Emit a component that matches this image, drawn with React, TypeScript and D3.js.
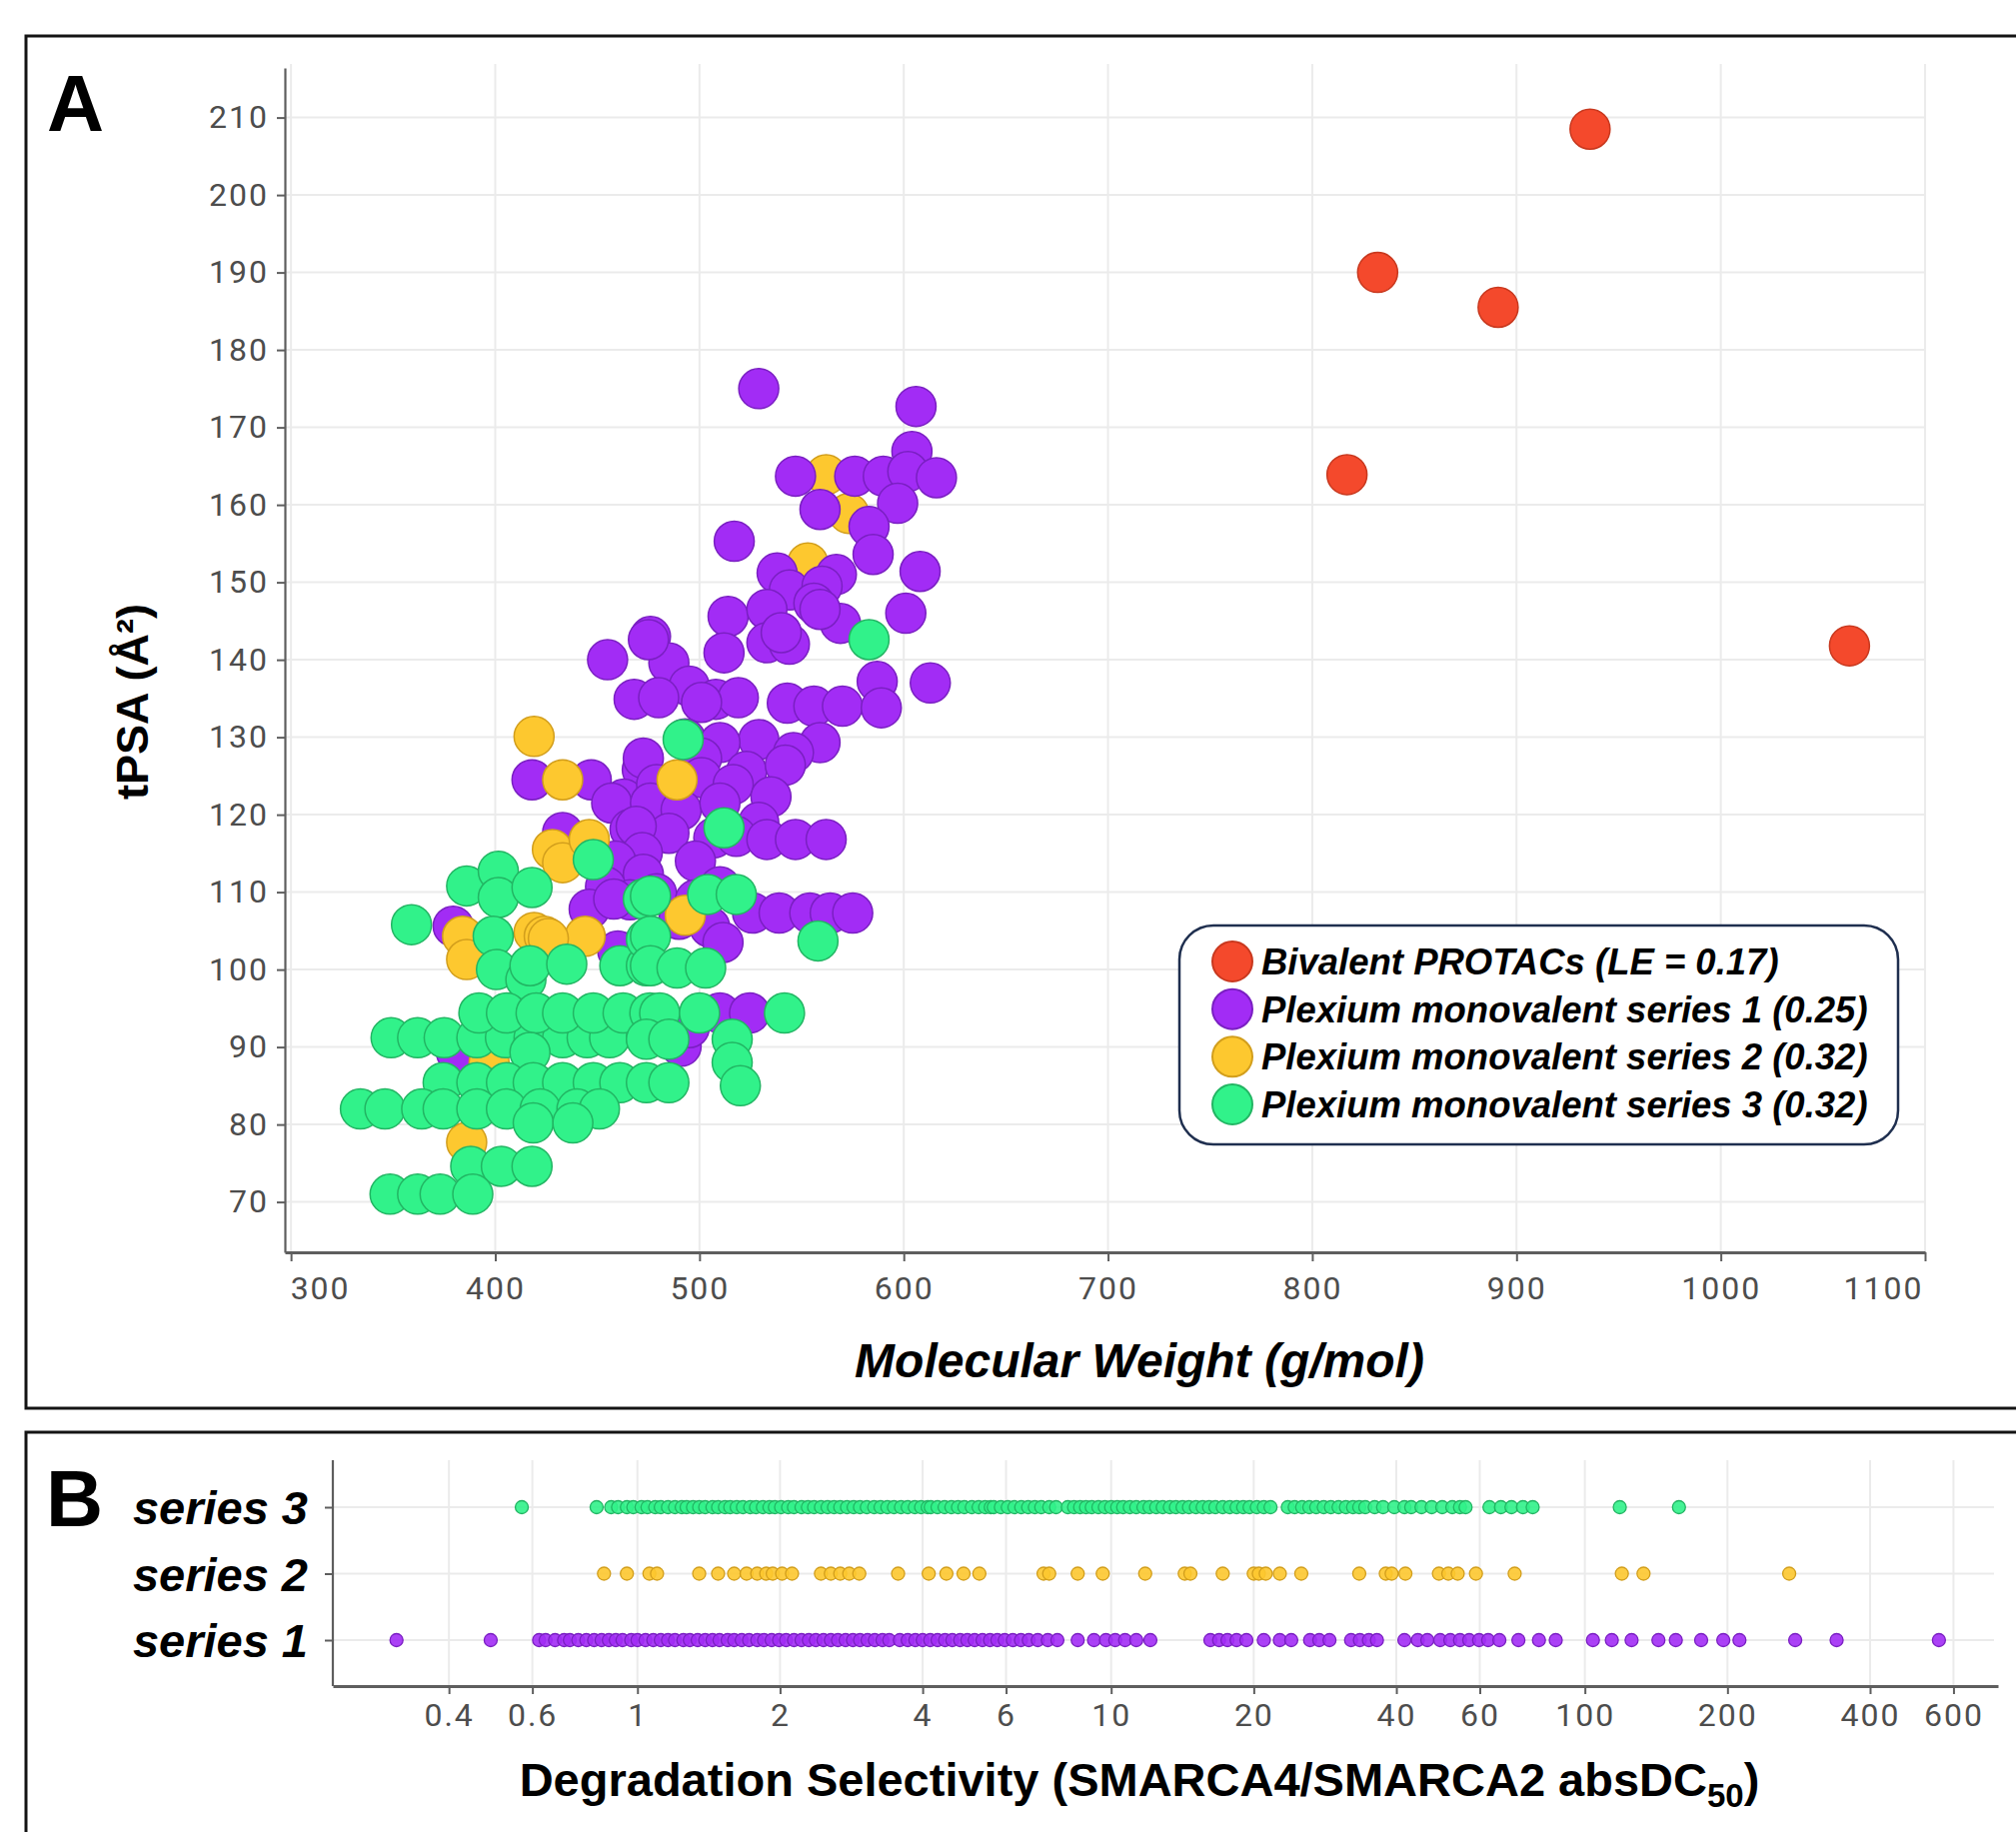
import React, { useRef, useEffect } from 'react';
import * as d3 from 'd3';

// ==================== CONFIG ====================
const W = 2017;
const H = 1833;

const COLORS = {
    red: '#F4492C', redStroke: '#C8381E',
    purple: '#A22CF5', purpleStroke: '#7A1FC2',
    yellow: '#FDC82F', yellowStroke: '#D29E1C',
    green: '#31F28A', greenStroke: '#22B563',
    grid: '#EBEBEB',
    axis: '#5E5E5E',
    tickText: '#4D4D4D',
    frame: '#141414',
    legendBorder: '#1F2F4F'
};

// ==================== DATA: panel A (MW g/mol, tPSA Å²) ====================
const bivalent: [number, number][] = [
    [936, 208.5], [832, 190], [891, 185.5], [817, 163.9], [1063, 141.8]
];

const series1A: [number, number][] = [
    [529, 175], [606, 172.7], [604, 166.9],
    [547, 163.7], [576, 163.7], [590, 163.7], [602, 164.3], [616, 163.5],
    [559, 159.4], [597, 160.2], [583, 157.2], [517, 155.3], [585, 153.6], [608, 151.4],
    [538, 151.2], [567, 151], [544, 149], [560, 149.5],
    [601, 146], [514, 145.6], [533, 146.5], [556, 147.3], [569, 144.7], [559, 146.5],
    [512, 140.9], [533, 142.2], [544, 142], [540, 143.5],
    [613, 137], [587, 137.2],
    [476, 143], [485, 139.6], [495, 136.6], [508, 134.9], [519, 135.1], [543, 134.4],
    [556, 134], [570, 134], [589, 133.8], [455, 140], [475, 142.6], [468, 134.9],
    [480, 135.1], [501, 134.5],
    [529, 129.7], [559, 129.3], [546, 128], [493, 129.8], [510, 129.3],
    [418, 124.5], [447, 124.5], [472, 125.8], [463, 122],
    [472.5, 127.3], [501, 127.3], [523, 125.6], [542, 126.4],
    [479, 123.9], [501, 124.8], [516.5, 123.9], [535, 122.3],
    [457, 121.5], [476, 121.5], [491, 120.6], [510, 121.5], [529, 119],
    [466, 118.1], [485, 117.6], [507, 117], [518, 117.2], [533, 116.8], [547, 116.8], [562, 116.8],
    [469, 118.5], [472, 115.1], [433, 117.7],
    [459, 114], [472.5, 112.3], [498, 114], [454, 110.7], [466, 109], [479, 109.8],
    [498, 109], [510, 110.7],
    [446, 107.8], [458, 109.1],
    [526, 107.3], [539, 107.3], [554, 107.3], [564, 107.3], [575, 107.3], [490, 106.5], [505, 105.5],
    [511.5, 103.5], [472.5, 103.2], [460, 102.4],
    [510, 94.4], [524.5, 94.4], [491, 90.1], [495, 92.5],
    [381, 89.3], [379.4, 105.6]
];

const series2A: [number, number][] = [
    [562, 163.9], [573, 158.9], [553, 152.5], [489, 124.5], [433, 124.5], [419, 130.1],
    [428, 115.5], [433, 113.8], [446, 116.8], [444, 104.3], [419, 104.8], [424, 104.3],
    [426, 104], [384, 104.3], [386, 101.3], [386, 77.7], [397, 88], [493, 107]
];

const series3A: [number, number][] = [
    [359, 105.8], [386, 110.8], [401.5, 112.7], [401.5, 109.3], [418, 110.6], [448, 114.2],
    [399, 104.3], [400.6, 100], [415, 98.7], [417, 100.5], [435, 100.7], [461, 100.5],
    [474, 100.5], [472.5, 109.1], [474, 103.9],
    [349, 91.2], [362, 91.2], [375, 91.2], [391, 91.2], [405, 91.2], [419, 91.2],
    [433, 91.2], [445, 91.2], [456, 91.2], [474, 91.2],
    [392, 94.4], [405.5, 94.4], [420, 94.4], [433, 94.4], [448, 94.4], [462.6, 94.4], [475.7, 94.4],
    [417, 89.3],
    [374.5, 85.4], [391, 85.4], [405.5, 85.4], [418.6, 85.4], [433, 85.4], [448, 85.4],
    [461, 85.4], [474, 85.4],
    [334, 82], [346, 82], [364, 82], [374.5, 82], [391, 82], [405.5, 82], [422, 82],
    [440, 82], [451, 82], [418.6, 80.2], [438, 80.2],
    [388, 74.6], [403, 74.6], [418, 74.6],
    [348.5, 71], [362, 71], [373, 71], [389, 71],
    [512, 118.3], [476, 109.5], [504, 109.7], [518, 109.7], [558, 103.7], [476, 104.3],
    [476, 100.5], [489, 100.2], [503, 100.2], [480.5, 94.4], [500, 94.4], [541.6, 94.4],
    [516, 91], [516, 88], [520, 85], [485, 85.4], [474, 91], [485, 91],
    [492, 129.7], [583, 142.6]
];

const xTicksA = [300, 400, 500, 600, 700, 800, 900, 1000, 1100];
const yTicksA = [70, 80, 90, 100, 110, 120, 130, 140, 150, 160, 170, 180, 190, 200, 210];

const legendLabels = [
    'Bivalent PROTACs (LE = 0.17)',
    'Plexium monovalent series 1 (0.25)',
    'Plexium monovalent series 2 (0.32)',
    'Plexium monovalent series 3 (0.32)'
];

// ==================== DATA: panel B (SMARCA4/SMARCA2 absDC50 ratio) ====================
const seriesNames = ['series 3', 'series 2', 'series 1'];

const series3Sel = [
    0.57, 0.82,
    0.88, 0.91, 0.95, 0.98, 1.02, 1.05, 1.09, 1.12, 1.16, 1.2, 1.24, 1.27, 1.31, 1.35, 1.39,
    1.44, 1.48, 1.53, 1.57, 1.62, 1.67, 1.73, 1.78, 1.84, 1.9, 1.95, 2.01, 2.08, 2.14, 2.22,
    2.29, 2.36, 2.44, 2.52, 2.6, 2.68, 2.77, 2.86, 2.95, 3.05, 3.16, 3.26, 3.37, 3.48, 3.6,
    3.72, 3.85, 3.97, 4.1, 4.16, 4.3, 4.45, 4.6, 4.75, 4.9, 5.08, 5.25, 5.42, 5.57, 5.65,
    5.85, 6.05, 6.25, 6.46, 6.68, 6.9, 7.12, 7.4, 7.65,
    8.1, 8.35, 8.6, 8.85, 9.1, 9.4, 9.7, 10.0, 10.3, 10.6, 10.95, 11.3, 11.7, 12.05, 12.45,
    12.85, 13.3, 13.7, 14.15, 14.6, 15.1, 15.6, 16.1, 16.6, 17.2, 17.8, 18.4, 19.0, 19.6,
    20.3, 21.0, 21.7,
    23.6, 24.4, 25.3, 26.2, 27.1, 28.1, 29.1, 30.2, 31.3, 32.4, 33.4,
    34.4, 36.0, 37.5, 39.6, 41.6,
    43.0, 45.2, 47.5, 50.0, 52.5, 54.5, 56.0,
    62.9, 66.5, 70.0, 74.0, 77.6,
    118.5, 158
];

const series2Sel = [
    0.85, 0.95, 1.06, 1.1, 1.35, 1.48, 1.6, 1.7, 1.79, 1.87, 1.93, 2.02, 2.12, 2.44, 2.56,
    2.68, 2.8, 2.94, 3.55, 4.12, 4.49, 4.88, 5.27, 7.2, 7.4, 8.5, 9.6, 11.8, 14.3, 14.7,
    17.2, 20.0, 20.5, 21.2, 22.7, 25.2, 33.4, 38.0, 39.1, 41.8, 49.2, 51.5, 53.9, 58.9,
    71.1, 119.7, 133, 270
];

const series1Sel = [
    0.31, 0.49,
    0.62, 0.64, 0.67, 0.7, 0.72, 0.75, 0.78, 0.81, 0.84, 0.87, 0.9, 0.93, 0.97, 1.0, 1.04,
    1.08, 1.12, 1.16, 1.2, 1.25, 1.29, 1.34, 1.39, 1.44, 1.49, 1.55, 1.6, 1.66, 1.72, 1.79,
    1.85, 1.92, 1.99, 2.06, 2.14, 2.22, 2.3, 2.38, 2.47, 2.56, 2.65, 2.75, 2.85, 2.95, 3.06,
    3.17, 3.29, 3.4, 3.58, 3.72, 3.86, 4.0, 4.15, 4.3, 4.46, 4.62, 4.8, 4.97, 5.15, 5.35,
    5.55, 5.75, 5.96, 6.2, 6.45, 6.7, 7.0, 7.35, 7.7, 8.5, 9.2, 9.75, 10.2, 10.7, 11.3, 12.1,
    16.2, 16.9, 17.6, 18.4, 19.3, 21.0, 22.7, 24.0, 26.3, 27.5, 28.9, 32.1, 33.5, 35.0, 36.4,
    41.6, 44.4, 46.5, 49.5, 52.0, 54.5, 57.0, 59.8, 62.5, 66.0, 72.4, 80, 86.8, 104, 114,
    125.5, 143, 155.6, 176, 196, 212, 278, 340, 559
];

const xTicksB = [0.4, 0.6, 1, 2, 4, 6, 10, 20, 40, 60, 100, 200, 400, 600];

const LABEL_FONT = "'Liberation Sans', Arial, sans-serif";
const TICK_FONT = "Roboto, 'Liberation Sans', sans-serif";

const App = () => {
    const svgRef = useRef<SVGSVGElement>(null);

    useEffect(() => {
        if (!svgRef.current) return;
        const svg = d3.select(svgRef.current);
        svg.selectAll('*').remove();

        svg.append('rect').attr('width', W).attr('height', H).attr('fill', '#fff');

        // ==================== PANEL A ====================
        const x = d3.scaleLinear().domain([297, 1100]).range([285, 1926]);
        const y = d3.scaleLinear().domain([63.5, 216.4]).range([1253, 68]);

        const gA = svg.append('g');

        // grid
        gA.selectAll('.hgrid').data(yTicksA).enter().append('line')
            .attr('x1', 285).attr('x2', 1926)
            .attr('y1', d => y(d)).attr('y2', d => y(d))
            .attr('stroke', COLORS.grid).attr('stroke-width', 2);
        gA.selectAll('.vgrid').data(xTicksA).enter().append('line')
            .attr('x1', d => x(d)).attr('x2', d => x(d))
            .attr('y1', 64).attr('y2', 1253)
            .attr('stroke', COLORS.grid).attr('stroke-width', 2);

        // axes
        const yAxis = gA.append('g').attr('transform', 'translate(285,0)')
            .call(d3.axisLeft(y).tickValues(yTicksA).tickSize(8).tickSizeOuter(0).tickPadding(8));
        const xAxis = gA.append('g').attr('transform', 'translate(0,1253)')
            .call(d3.axisBottom(x).tickValues(xTicksA).tickFormat(d3.format('d'))
                .tickSize(9).tickSizeOuter(0).tickPadding(8));

        [yAxis, xAxis].forEach(ax => {
            ax.select('.domain').attr('stroke', COLORS.axis).attr('stroke-width', 2.2);
            ax.selectAll('.tick line').attr('stroke', COLORS.axis).attr('stroke-width', 2);
            ax.selectAll('.tick text')
                .attr('fill', COLORS.tickText)
                .attr('font-family', TICK_FONT)
                .attr('font-size', 32)
                .attr('letter-spacing', 2);
        });
        xAxis.select('.domain').attr('stroke-width', 3);
        xAxis.selectAll('.tick text').attr('dy', '0.95em');
        // end labels are pulled inside the axis, as in the source figure
        xAxis.selectAll<SVGTextElement, number>('.tick text')
            .attr('text-anchor', d => d === 300 ? 'start' : d === 1100 ? 'end' : 'middle')
            .attr('x', d => d === 300 ? -1 : d === 1100 ? -2 : 0);

        // points
        const drawDots = (data: [number, number][], fill: string, stroke: string) => {
            gA.append('g').selectAll('circle').data(data).enter().append('circle')
                .attr('cx', d => x(d[0])).attr('cy', d => y(d[1]))
                .attr('r', 20)
                .attr('fill', fill)
                .attr('stroke', stroke)
                .attr('stroke-width', 1.5);
        };
        drawDots(bivalent, COLORS.red, COLORS.redStroke);
        // the high-tPSA yellows sit behind the purple cloud, the rest in front
        drawDots(series2A.filter(d => d[1] > 145), COLORS.yellow, COLORS.yellowStroke);
        drawDots(series1A, COLORS.purple, COLORS.purpleStroke);
        drawDots(series2A.filter(d => d[1] <= 145), COLORS.yellow, COLORS.yellowStroke);
        drawDots(series3A, COLORS.green, COLORS.greenStroke);

        // axis titles
        gA.append('text')
            .attr('transform', 'translate(148,702) rotate(-90)')
            .attr('text-anchor', 'middle')
            .attr('font-family', LABEL_FONT).attr('font-weight', 'bold').attr('font-size', 45)
            .attr('fill', '#000')
            .text('tPSA (Å²)');
        gA.append('text')
            .attr('x', 1140).attr('y', 1378)
            .attr('text-anchor', 'middle')
            .attr('font-family', LABEL_FONT).attr('font-weight', 'bold').attr('font-style', 'italic')
            .attr('font-size', 48)
            .attr('fill', '#000')
            .text('Molecular Weight (g/mol)');

        // legend
        const legendColors = [
            [COLORS.red, COLORS.redStroke], [COLORS.purple, COLORS.purpleStroke],
            [COLORS.yellow, COLORS.yellowStroke], [COLORS.green, COLORS.greenStroke]
        ];
        const lg = gA.append('g');
        lg.append('rect')
            .attr('x', 1180).attr('y', 926).attr('width', 719).attr('height', 219)
            .attr('rx', 34).attr('ry', 34)
            .attr('fill', '#fff').attr('stroke', COLORS.legendBorder).attr('stroke-width', 2.5);
        const ly = d3.scalePoint<number>().domain([0, 1, 2, 3]).range([962, 1105]);
        legendLabels.forEach((label, i) => {
            lg.append('circle')
                .attr('cx', 1233).attr('cy', ly(i)!).attr('r', 20)
                .attr('fill', legendColors[i][0]).attr('stroke', legendColors[i][1]).attr('stroke-width', 2);
            lg.append('text')
                .attr('x', 1262).attr('y', ly(i)! + 13)
                .attr('font-family', LABEL_FONT).attr('font-weight', 'bold').attr('font-style', 'italic')
                .attr('font-size', 36.5)
                .attr('fill', '#000')
                .text(label);
        });

        // panel letter + frame
        svg.append('text')
            .attr('x', 47).attr('y', 131)
            .attr('font-family', LABEL_FONT).attr('font-weight', 'bold').attr('font-size', 79)
            .text('A');
        svg.append('rect')
            .attr('x', 26).attr('y', 36).attr('width', 2100).attr('height', 1373)
            .attr('fill', 'none').attr('stroke', COLORS.frame).attr('stroke-width', 3);

        // ==================== PANEL B ====================
        const xb = d3.scaleLog().domain([0.2275, 745]).range([333, 1999]);
        const yb = d3.scalePoint<string>().domain(seriesNames).range([1508, 1641]);
        const gB = svg.append('g');

        gB.selectAll('.hgridB').data(seriesNames).enter().append('line')
            .attr('x1', 333).attr('x2', 1995)
            .attr('y1', d => yb(d)!).attr('y2', d => yb(d)!)
            .attr('stroke', COLORS.grid).attr('stroke-width', 2);
        gB.selectAll('.vgridB').data(xTicksB).enter().append('line')
            .attr('x1', d => xb(d)).attr('x2', d => xb(d))
            .attr('y1', 1461).attr('y2', 1687)
            .attr('stroke', COLORS.grid).attr('stroke-width', 2);

        const xAxisB = gB.append('g').attr('transform', 'translate(0,1687)')
            .call(d3.axisBottom(xb).tickValues(xTicksB).tickFormat(d => String(d))
                .tickSize(8).tickSizeOuter(0).tickPadding(8));
        xAxisB.select('.domain').attr('stroke', COLORS.axis).attr('stroke-width', 3);
        xAxisB.selectAll('.tick line').attr('stroke', COLORS.axis).attr('stroke-width', 2);
        xAxisB.selectAll('.tick text')
            .attr('fill', COLORS.tickText)
            .attr('font-family', TICK_FONT)
            .attr('font-size', 32)
            .attr('letter-spacing', 2)
            .attr('dy', '0.75em');

        const yAxisB = gB.append('g').attr('transform', 'translate(333,0)')
            .call(d3.axisLeft(yb).tickSize(8).tickSizeOuter(0).tickFormat(() => ''));
        yAxisB.select('.domain').attr('stroke', COLORS.axis).attr('stroke-width', 2.2)
            .attr('d', 'M0,1461V1687');
        yAxisB.selectAll('.tick line').attr('stroke', COLORS.axis).attr('stroke-width', 2);

        gB.selectAll('.rowLabel').data(seriesNames).enter().append('text')
            .attr('x', 308).attr('y', d => yb(d)! + 17)
            .attr('text-anchor', 'end')
            .attr('font-family', LABEL_FONT).attr('font-weight', 'bold').attr('font-style', 'italic')
            .attr('font-size', 47)
            .attr('fill', '#000')
            .text(d => d);

        const stripData: [string, number[], string, string][] = [
            ['series 3', series3Sel, COLORS.green, COLORS.greenStroke],
            ['series 2', series2Sel, COLORS.yellow, COLORS.yellowStroke],
            ['series 1', series1Sel, COLORS.purple, COLORS.purpleStroke]
        ];
        stripData.forEach(([name, vals, fill, stroke]) => {
            gB.append('g').selectAll('circle').data(vals).enter().append('circle')
                .attr('cx', d => xb(d)).attr('cy', yb(name)!)
                .attr('r', 6.5)
                .attr('fill', fill).attr('fill-opacity', 0.9)
                .attr('stroke', stroke).attr('stroke-width', 1.3);
        });

        const title = gB.append('text')
            .attr('x', 1140).attr('y', 1797)
            .attr('text-anchor', 'middle')
            .attr('font-family', LABEL_FONT).attr('font-weight', 'bold')
            .attr('font-size', 47)
            .attr('fill', '#000');
        title.append('tspan').text('Degradation Selectivity (SMARCA4/SMARCA2 absDC');
        title.append('tspan').attr('font-size', 33).attr('dy', 11).text('50');
        title.append('tspan').attr('dy', -11).text(')');

        svg.append('text')
            .attr('x', 46).attr('y', 1527)
            .attr('font-family', LABEL_FONT).attr('font-weight', 'bold').attr('font-size', 79)
            .text('B');
        svg.append('rect')
            .attr('x', 26).attr('y', 1433).attr('width', 2100).attr('height', 600)
            .attr('fill', 'none').attr('stroke', COLORS.frame).attr('stroke-width', 3);
    }, []);

    return (
        <svg
            ref={svgRef}
            width={W}
            height={H}
            style={{ position: 'absolute', left: 0, top: 0, display: 'block' }}
        />
    );
};

export default App;
